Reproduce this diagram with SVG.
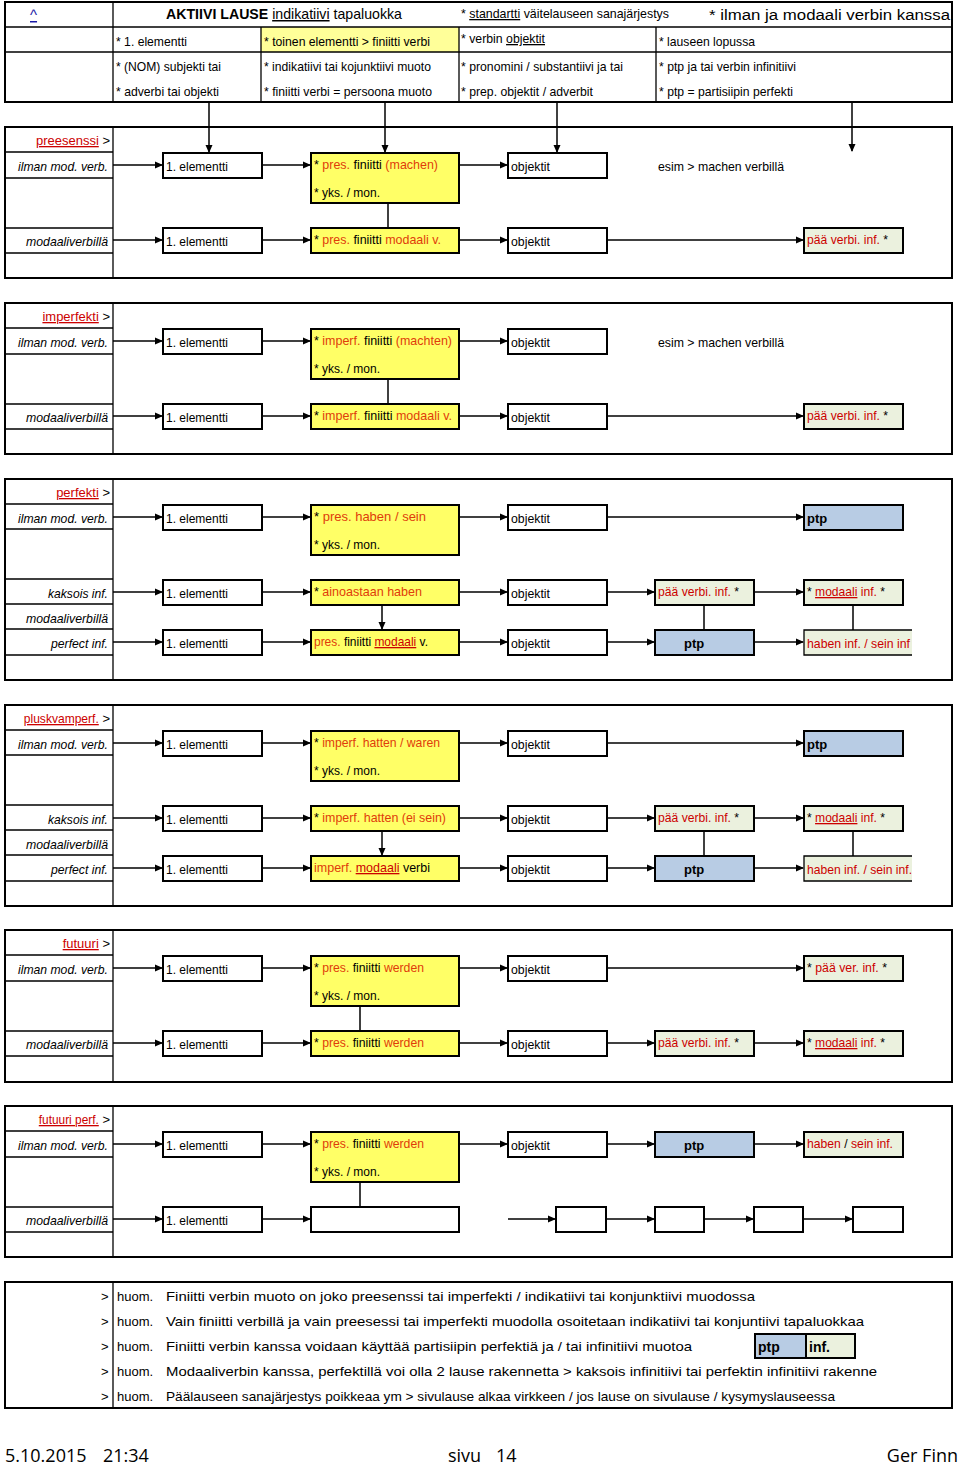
<svg xmlns="http://www.w3.org/2000/svg" width="960" height="1465" viewBox="0 0 960 1465">
<defs>
<marker id="a" markerWidth="8" markerHeight="8" refX="7" refY="4" orient="auto" markerUnits="userSpaceOnUse"><path d="M0,0.5 L8,4 L0,7.5 Z" fill="#000"/></marker>
<style>
text{font-family:"Liberation Sans Narrow","Liberation Sans",Arial,sans-serif;font-size:13px;fill:#000}
.w{font-family:"Liberation Sans",Arial,sans-serif}
.i{font-style:italic}
.e{text-anchor:end}
.r{fill:#cc0000}
.o{fill:#e03c0a}
.u{text-decoration:underline}
.b{fill:#fff;stroke:#000;stroke-width:2}
.y{fill:#ffff66;stroke:#000;stroke-width:2}
.g{fill:#ebf1de;stroke:#000;stroke-width:2}
.bl{fill:#b8cce4;stroke:#000;stroke-width:2}
.f{fill:#fff;stroke:#000;stroke-width:2}
.l{stroke:#000;stroke-width:1.3;fill:none}
.c line{stroke:#000;stroke-width:1.5}
.c .ar{marker-end:url(#a)}
.ft{font-family:"Open Sans","Liberation Sans",sans-serif;font-size:18px}
</style>
</defs>

<g id="header">
<rect class="f" x="5" y="2" width="947" height="100"/>
<rect x="261" y="27" width="198" height="25" fill="#ffff99"/>
<line class="l" x1="5" y1="27" x2="952" y2="27"/>
<line class="l" x1="5" y1="52" x2="952" y2="52"/>
<line class="l" x1="113" y1="2" x2="113" y2="102"/>
<line class="l" x1="261" y1="27" x2="261" y2="102"/>
<line class="l" x1="459" y1="27" x2="459" y2="102"/>
<line class="l" x1="656" y1="27" x2="656" y2="102"/>
<text x="30" y="20" class="w u" style="fill:#1a1aa6;font-size:15px">^</text>
<text x="166" y="19" class="w" style="font-size:15px" textLength="236" lengthAdjust="spacingAndGlyphs"><tspan font-weight="bold">AKTIIVI LAUSE</tspan> <tspan class="u">indikatiivi</tspan> tapaluokka</text>
<text x="461" y="18" textLength="208" lengthAdjust="spacingAndGlyphs">* <tspan class="u">standartti</tspan> väitelauseen  sanajärjestys</text>
<text x="709" y="20" class="w" style="font-size:15.5px" textLength="241" lengthAdjust="spacingAndGlyphs">* ilman ja modaali verbin kanssa</text>
<text x="116" y="46" textLength="71" lengthAdjust="spacingAndGlyphs">* 1. elementti</text>
<text x="264" y="46" textLength="166" lengthAdjust="spacingAndGlyphs">* toinen elementti &gt; finiitti verbi</text>
<text x="461" y="43" textLength="84" lengthAdjust="spacingAndGlyphs">* verbin <tspan class="u">objektit</tspan></text>
<text x="659" y="46" textLength="96" lengthAdjust="spacingAndGlyphs">* lauseen lopussa</text>
<text x="116" y="71" textLength="105" lengthAdjust="spacingAndGlyphs">* (NOM) subjekti tai</text>
<text x="116" y="96" textLength="103" lengthAdjust="spacingAndGlyphs">* adverbi tai objekti</text>
<text x="264" y="71" textLength="167" lengthAdjust="spacingAndGlyphs">* indikatiivi tai kojunktiivi muoto</text>
<text x="264" y="96" textLength="168" lengthAdjust="spacingAndGlyphs">* finiitti verbi = persoona muoto</text>
<text x="461" y="71" textLength="162" lengthAdjust="spacingAndGlyphs">* pronomini / substantiivi ja tai</text>
<text x="461" y="96" textLength="132" lengthAdjust="spacingAndGlyphs">* prep. objektit / adverbit</text>
<text x="659" y="71" textLength="137" lengthAdjust="spacingAndGlyphs">* ptp ja tai verbin infinitiivi</text>
<text x="659" y="96" textLength="134" lengthAdjust="spacingAndGlyphs">* ptp = partisiipin perfekti</text>
</g>

<g id="preesenssi">
<rect class="f" x="5" y="127" width="947" height="151"/>
<line class="l" x1="113" y1="127" x2="113" y2="278"/>
<path class="l" d="M5,152H113M5,178H113M5,228H113M5,253H113"/>
<text x="110" y="145" class="e"><tspan class="r u">preesenssi</tspan> &gt;</text>
<text x="108" y="171" class="e i" textLength="90" lengthAdjust="spacingAndGlyphs">ilman mod. verb.</text>
<text x="108" y="246" class="e i" textLength="82" lengthAdjust="spacingAndGlyphs">modaaliverbillä</text>
<rect class="b" x="163" y="153" width="99" height="25"/><text x="166" y="171" textLength="62" lengthAdjust="spacingAndGlyphs">1. elementti</text>
<rect class="y" x="311" y="153" width="148" height="50"/>
<text x="314" y="169" textLength="124" lengthAdjust="spacingAndGlyphs">* <tspan class="o">pres.</tspan> finiitti  <tspan class="o">(machen)</tspan></text>
<text x="314" y="197" textLength="66" lengthAdjust="spacingAndGlyphs">* yks. / mon.</text>
<rect class="b" x="508" y="153" width="99" height="25"/><text x="511" y="171" textLength="39" lengthAdjust="spacingAndGlyphs">objektit</text>
<text x="658" y="171" textLength="126" lengthAdjust="spacingAndGlyphs">esim &gt; machen verbillä</text>
<rect class="b" x="163" y="228" width="99" height="25"/><text x="166" y="246" textLength="62" lengthAdjust="spacingAndGlyphs">1. elementti</text>
<rect class="y" x="311" y="228" width="148" height="25"/><text x="314" y="244" textLength="127" lengthAdjust="spacingAndGlyphs">* <tspan class="o">pres.</tspan> finiitti  <tspan class="o">modaali v.</tspan></text>
<rect class="b" x="508" y="228" width="99" height="25"/><text x="511" y="246" textLength="39" lengthAdjust="spacingAndGlyphs">objektit</text>
<rect class="g" x="804" y="228" width="99" height="25"/><text x="807" y="244" textLength="81" lengthAdjust="spacingAndGlyphs"><tspan class="r">pää verbi. inf.</tspan> *</text>
</g>

<g id="imperfekti">
<rect class="f" x="5" y="303" width="947" height="151"/>
<line class="l" x1="113" y1="303" x2="113" y2="454"/>
<path class="l" d="M5,328H113M5,354H113M5,404H113M5,429H113"/>
<text x="110" y="321" class="e"><tspan class="r u">imperfekti</tspan> &gt;</text>
<text x="108" y="347" class="e i" textLength="90" lengthAdjust="spacingAndGlyphs">ilman mod. verb.</text>
<text x="108" y="422" class="e i" textLength="82" lengthAdjust="spacingAndGlyphs">modaaliverbillä</text>
<rect class="b" x="163" y="329" width="99" height="25"/><text x="166" y="347" textLength="62" lengthAdjust="spacingAndGlyphs">1. elementti</text>
<rect class="y" x="311" y="329" width="148" height="50"/>
<text x="314" y="345" textLength="138" lengthAdjust="spacingAndGlyphs">* <tspan class="o">imperf.</tspan> finiitti  <tspan class="o">(machten)</tspan></text>
<text x="314" y="373" textLength="66" lengthAdjust="spacingAndGlyphs">* yks. / mon.</text>
<rect class="b" x="508" y="329" width="99" height="25"/><text x="511" y="347" textLength="39" lengthAdjust="spacingAndGlyphs">objektit</text>
<text x="658" y="347" textLength="126" lengthAdjust="spacingAndGlyphs">esim &gt; machen verbillä</text>
<rect class="b" x="163" y="404" width="99" height="25"/><text x="166" y="422" textLength="62" lengthAdjust="spacingAndGlyphs">1. elementti</text>
<rect class="y" x="311" y="404" width="148" height="25"/><text x="314" y="420" textLength="138" lengthAdjust="spacingAndGlyphs">* <tspan class="o">imperf.</tspan> finiitti  <tspan class="o">modaali v.</tspan></text>
<rect class="b" x="508" y="404" width="99" height="25"/><text x="511" y="422" textLength="39" lengthAdjust="spacingAndGlyphs">objektit</text>
<rect class="g" x="804" y="404" width="99" height="25"/><text x="807" y="420" textLength="81" lengthAdjust="spacingAndGlyphs"><tspan class="r">pää verbi. inf.</tspan> *</text>
</g>

<g id="perfekti">
<rect class="f" x="5" y="479" width="947" height="201"/>
<line class="l" x1="113" y1="479" x2="113" y2="680"/>
<path class="l" d="M5,504H113M5,529H113M5,579H113M5,604H113M5,629H113M5,655H113"/>
<text x="110" y="497" class="e"><tspan class="r u">perfekti</tspan> &gt;</text>
<text x="108" y="523" class="e i" textLength="90" lengthAdjust="spacingAndGlyphs">ilman mod. verb.</text>
<text x="108" y="598" class="e i" textLength="60" lengthAdjust="spacingAndGlyphs">kaksois inf.</text>
<text x="108" y="623" class="e i" textLength="82" lengthAdjust="spacingAndGlyphs">modaaliverbillä</text>
<text x="108" y="648" class="e i" textLength="57" lengthAdjust="spacingAndGlyphs">perfect inf.</text>
<rect class="b" x="163" y="505" width="99" height="25"/><text x="166" y="523" textLength="62" lengthAdjust="spacingAndGlyphs">1. elementti</text>
<rect class="y" x="311" y="505" width="148" height="50"/>
<text x="314" y="521" textLength="112" lengthAdjust="spacingAndGlyphs">* <tspan class="o">pres.   haben / sein</tspan></text>
<text x="314" y="549" textLength="66" lengthAdjust="spacingAndGlyphs">* yks. / mon.</text>
<rect class="b" x="508" y="505" width="99" height="25"/><text x="511" y="523" textLength="39" lengthAdjust="spacingAndGlyphs">objektit</text>
<rect class="bl" x="804" y="505" width="99" height="25"/><text x="807" y="523" font-weight="bold">ptp</text>
<rect class="b" x="163" y="580" width="99" height="25"/><text x="166" y="598" textLength="62" lengthAdjust="spacingAndGlyphs">1. elementti</text>
<rect class="y" x="311" y="580" width="148" height="25"/><text x="314" y="596" textLength="108" lengthAdjust="spacingAndGlyphs">*  <tspan class="o">ainoastaan haben</tspan></text>
<rect class="b" x="508" y="580" width="99" height="25"/><text x="511" y="598" textLength="39" lengthAdjust="spacingAndGlyphs">objektit</text>
<rect class="g" x="655" y="580" width="99" height="25"/><text x="658" y="596" textLength="81" lengthAdjust="spacingAndGlyphs"><tspan class="r">pää verbi. inf.</tspan> *</text>
<rect class="g" x="804" y="580" width="99" height="25"/><text x="807" y="596" textLength="78" lengthAdjust="spacingAndGlyphs">* <tspan class="r u">modaali</tspan><tspan class="r"> inf.</tspan> *</text>
<rect class="b" x="163" y="630" width="99" height="25"/><text x="166" y="648" textLength="62" lengthAdjust="spacingAndGlyphs">1. elementti</text>
<rect class="y" x="311" y="630" width="148" height="25"/><text x="314" y="646" textLength="114" lengthAdjust="spacingAndGlyphs"><tspan class="o">pres.</tspan> finiitti <tspan class="r u">modaali</tspan> v.</text>
<rect class="b" x="508" y="630" width="99" height="25"/><text x="511" y="648" textLength="39" lengthAdjust="spacingAndGlyphs">objektit</text>
<rect class="bl" x="655" y="630" width="99" height="25"/><text x="684" y="648" font-weight="bold">ptp</text>
<rect x="804" y="630" width="108" height="25" fill="#ebf1de"/><path class="l" d="M912,630H804V655H912" stroke-width="2"/><text x="807" y="648" class="r" textLength="103" lengthAdjust="spacingAndGlyphs">haben inf. / sein inf</text>
</g>

<g id="pluskvamperfekti">
<rect class="f" x="5" y="705" width="947" height="201"/>
<line class="l" x1="113" y1="705" x2="113" y2="906"/>
<path class="l" d="M5,730H113M5,755H113M5,805H113M5,830H113M5,855H113M5,881H113"/>
<text x="110" y="723" class="e"><tspan class="r u" textLength="75" lengthAdjust="spacingAndGlyphs">pluskvamperf.</tspan> &gt;</text>
<text x="108" y="749" class="e i" textLength="90" lengthAdjust="spacingAndGlyphs">ilman mod. verb.</text>
<text x="108" y="824" class="e i" textLength="60" lengthAdjust="spacingAndGlyphs">kaksois inf.</text>
<text x="108" y="849" class="e i" textLength="82" lengthAdjust="spacingAndGlyphs">modaaliverbillä</text>
<text x="108" y="874" class="e i" textLength="57" lengthAdjust="spacingAndGlyphs">perfect inf.</text>
<rect class="b" x="163" y="731" width="99" height="25"/><text x="166" y="749" textLength="62" lengthAdjust="spacingAndGlyphs">1. elementti</text>
<rect class="y" x="311" y="731" width="148" height="50"/>
<text x="314" y="747" textLength="126" lengthAdjust="spacingAndGlyphs">* <tspan class="o">imperf. hatten / waren</tspan></text>
<text x="314" y="775" textLength="66" lengthAdjust="spacingAndGlyphs">* yks. / mon.</text>
<rect class="b" x="508" y="731" width="99" height="25"/><text x="511" y="749" textLength="39" lengthAdjust="spacingAndGlyphs">objektit</text>
<rect class="bl" x="804" y="731" width="99" height="25"/><text x="807" y="749" font-weight="bold">ptp</text>
<rect class="b" x="163" y="806" width="99" height="25"/><text x="166" y="824" textLength="62" lengthAdjust="spacingAndGlyphs">1. elementti</text>
<rect class="y" x="311" y="806" width="148" height="25"/><text x="314" y="822" textLength="132" lengthAdjust="spacingAndGlyphs">* <tspan class="o">imperf. hatten  (ei sein)</tspan></text>
<rect class="b" x="508" y="806" width="99" height="25"/><text x="511" y="824" textLength="39" lengthAdjust="spacingAndGlyphs">objektit</text>
<rect class="g" x="655" y="806" width="99" height="25"/><text x="658" y="822" textLength="81" lengthAdjust="spacingAndGlyphs"><tspan class="r">pää verbi. inf.</tspan> *</text>
<rect class="g" x="804" y="806" width="99" height="25"/><text x="807" y="822" textLength="78" lengthAdjust="spacingAndGlyphs">* <tspan class="r u">modaali</tspan><tspan class="r"> inf.</tspan> *</text>
<rect class="b" x="163" y="856" width="99" height="25"/><text x="166" y="874" textLength="62" lengthAdjust="spacingAndGlyphs">1. elementti</text>
<rect class="y" x="311" y="856" width="148" height="25"/><text x="314" y="872" textLength="116" lengthAdjust="spacingAndGlyphs"><tspan class="o">imperf.</tspan>  <tspan class="r u">modaali</tspan> verbi</text>
<rect class="b" x="508" y="856" width="99" height="25"/><text x="511" y="874" textLength="39" lengthAdjust="spacingAndGlyphs">objektit</text>
<rect class="bl" x="655" y="856" width="99" height="25"/><text x="684" y="874" font-weight="bold">ptp</text>
<rect x="804" y="856" width="108" height="25" fill="#ebf1de"/><path class="l" d="M912,856H804V881H912" stroke-width="2"/><text x="807" y="874" class="r" textLength="105" lengthAdjust="spacingAndGlyphs">haben inf. / sein inf.</text>
</g>

<g id="futuuri">
<rect class="f" x="5" y="930" width="947" height="152"/>
<line class="l" x1="113" y1="930" x2="113" y2="1082"/>
<path class="l" d="M5,955H113M5,981H113M5,1031H113M5,1056H113"/>
<text x="110" y="948" class="e"><tspan class="r u">futuuri</tspan> &gt;</text>
<text x="108" y="974" class="e i" textLength="90" lengthAdjust="spacingAndGlyphs">ilman mod. verb.</text>
<text x="108" y="1049" class="e i" textLength="82" lengthAdjust="spacingAndGlyphs">modaaliverbillä</text>
<rect class="b" x="163" y="956" width="99" height="25"/><text x="166" y="974" textLength="62" lengthAdjust="spacingAndGlyphs">1. elementti</text>
<rect class="y" x="311" y="956" width="148" height="50"/>
<text x="314" y="972" textLength="110" lengthAdjust="spacingAndGlyphs">* <tspan class="o">pres.</tspan> finiitti <tspan class="o">werden</tspan></text>
<text x="314" y="1000" textLength="66" lengthAdjust="spacingAndGlyphs">* yks. / mon.</text>
<rect class="b" x="508" y="956" width="99" height="25"/><text x="511" y="974" textLength="39" lengthAdjust="spacingAndGlyphs">objektit</text>
<rect class="g" x="804" y="956" width="99" height="25"/><text x="807" y="972" textLength="80" lengthAdjust="spacingAndGlyphs">* <tspan class="r">pää ver. inf.</tspan> *</text>
<rect class="b" x="163" y="1031" width="99" height="25"/><text x="166" y="1049" textLength="62" lengthAdjust="spacingAndGlyphs">1. elementti</text>
<rect class="y" x="311" y="1031" width="148" height="25"/><text x="314" y="1047" textLength="110" lengthAdjust="spacingAndGlyphs">* <tspan class="o">pres.</tspan> finiitti <tspan class="o">werden</tspan></text>
<rect class="b" x="508" y="1031" width="99" height="25"/><text x="511" y="1049" textLength="39" lengthAdjust="spacingAndGlyphs">objektit</text>
<rect class="g" x="655" y="1031" width="99" height="25"/><text x="658" y="1047" textLength="81" lengthAdjust="spacingAndGlyphs"><tspan class="r">pää verbi. inf.</tspan> *</text>
<rect class="g" x="804" y="1031" width="99" height="25"/><text x="807" y="1047" textLength="78" lengthAdjust="spacingAndGlyphs">* <tspan class="r u">modaali</tspan><tspan class="r"> inf.</tspan> *</text>
</g>

<g id="futuuriperf">
<rect class="f" x="5" y="1106" width="947" height="151"/>
<line class="l" x1="113" y1="1106" x2="113" y2="1257"/>
<path class="l" d="M5,1131H113M5,1157H113M5,1207H113M5,1232H113"/>
<text x="110" y="1124" class="e"><tspan class="r u" textLength="60" lengthAdjust="spacingAndGlyphs">futuuri perf.</tspan> &gt;</text>
<text x="108" y="1150" class="e i" textLength="90" lengthAdjust="spacingAndGlyphs">ilman mod. verb.</text>
<text x="108" y="1225" class="e i" textLength="82" lengthAdjust="spacingAndGlyphs">modaaliverbillä</text>
<rect class="b" x="163" y="1132" width="99" height="25"/><text x="166" y="1150" textLength="62" lengthAdjust="spacingAndGlyphs">1. elementti</text>
<rect class="y" x="311" y="1132" width="148" height="50"/>
<text x="314" y="1148" textLength="110" lengthAdjust="spacingAndGlyphs">* <tspan class="o">pres.</tspan> finiitti <tspan class="o">werden</tspan></text>
<text x="314" y="1176" textLength="66" lengthAdjust="spacingAndGlyphs">* yks. / mon.</text>
<rect class="b" x="508" y="1132" width="99" height="25"/><text x="511" y="1150" textLength="39" lengthAdjust="spacingAndGlyphs">objektit</text>
<rect class="bl" x="655" y="1132" width="99" height="25"/><text x="684" y="1150" font-weight="bold">ptp</text>
<rect class="g" x="804" y="1132" width="99" height="25"/><text x="807" y="1148" textLength="86" lengthAdjust="spacingAndGlyphs"><tspan class="r">haben</tspan> / <tspan class="r">sein inf.</tspan></text>
<rect class="b" x="163" y="1207" width="99" height="25"/><text x="166" y="1225" textLength="62" lengthAdjust="spacingAndGlyphs">1. elementti</text>
<rect class="b" x="311" y="1207" width="148" height="25"/>
<rect class="b" x="556" y="1207" width="50" height="25"/>
<rect class="b" x="655" y="1207" width="49" height="25"/>
<rect class="b" x="754" y="1207" width="49" height="25"/>
<rect class="b" x="853" y="1207" width="50" height="25"/>
</g>

<g id="notes">
<rect class="f" x="5" y="1282" width="947" height="126"/>
<line class="l" x1="113" y1="1282" x2="113" y2="1408"/>
<text x="101" y="1301">&gt;</text><text x="117" y="1301">huom.</text><text x="166" y="1301" textLength="589" lengthAdjust="spacingAndGlyphs">Finiitti verbin muoto on joko preesenssi tai imperfekti / indikatiivi tai konjunktiivi muodossa</text>
<text x="101" y="1326">&gt;</text><text x="117" y="1326">huom.</text><text x="166" y="1326" textLength="698" lengthAdjust="spacingAndGlyphs">Vain finiitti verbillä ja vain preesessi tai imperfekti muodolla osoitetaan indikatiivi tai konjuntiivi tapaluokkaa</text>
<text x="101" y="1351">&gt;</text><text x="117" y="1351">huom.</text><text x="166" y="1351" textLength="526" lengthAdjust="spacingAndGlyphs">Finiitti verbin kanssa voidaan käyttää partisiipin perfektiä ja / tai infinitiivi muotoa</text>
<text x="101" y="1376">&gt;</text><text x="117" y="1376">huom.</text><text x="166" y="1376" textLength="711" lengthAdjust="spacingAndGlyphs">Modaaliverbin kanssa, perfektillä voi olla 2 lause rakennetta &gt; kaksois infinitiivi tai perfektin infinitiivi rakenne</text>
<text x="101" y="1401">&gt;</text><text x="117" y="1401">huom.</text><text x="166" y="1401" textLength="669" lengthAdjust="spacingAndGlyphs">Päälauseen sanajärjestys poikkeaa ym &gt; sivulause alkaa virkkeen / jos lause on sivulause / kysymyslauseessa</text>
<rect class="bl" x="755" y="1334" width="51" height="24"/><text x="758" y="1352" font-weight="bold" style="font-size:14px">ptp</text>
<rect class="g" x="806" y="1334" width="49" height="24"/><text x="809" y="1352" font-weight="bold" style="font-size:14px">inf.</text>
</g>

<g id="footer">
<text x="5" y="1462" class="ft">5.10.2015</text><text x="103" y="1462" class="ft">21:34</text>
<text x="448" y="1462" class="ft">sivu</text><text x="496" y="1462" class="ft">14</text>
<text x="958" y="1462" class="ft" text-anchor="end">Ger Finn</text>
</g>

<g id="connectors" class="c">
<line class="ar" x1="209" y1="102" x2="209" y2="152"/>
<line class="ar" x1="385" y1="102" x2="385" y2="152"/>
<line class="ar" x1="557" y1="102" x2="557" y2="152"/>
<line class="ar" x1="852" y1="102" x2="852" y2="151"/>
<line class="ar" x1="113" y1="165" x2="162" y2="165"/><line class="ar" x1="262" y1="165" x2="310" y2="165"/><line class="ar" x1="459" y1="165" x2="507" y2="165"/>
<line x1="388" y1="203" x2="388" y2="228"/>
<line class="ar" x1="113" y1="240" x2="162" y2="240"/><line class="ar" x1="262" y1="240" x2="310" y2="240"/><line class="ar" x1="459" y1="240" x2="507" y2="240"/><line class="ar" x1="607" y1="240" x2="803" y2="240"/>
<line class="ar" x1="113" y1="341" x2="162" y2="341"/><line class="ar" x1="262" y1="341" x2="310" y2="341"/><line class="ar" x1="459" y1="341" x2="507" y2="341"/>
<line x1="388" y1="379" x2="388" y2="404"/>
<line class="ar" x1="113" y1="416" x2="162" y2="416"/><line class="ar" x1="262" y1="416" x2="310" y2="416"/><line class="ar" x1="459" y1="416" x2="507" y2="416"/><line class="ar" x1="607" y1="416" x2="803" y2="416"/>
<line class="ar" x1="113" y1="517" x2="162" y2="517"/><line class="ar" x1="262" y1="517" x2="310" y2="517"/><line class="ar" x1="459" y1="517" x2="507" y2="517"/><line class="ar" x1="607" y1="517" x2="803" y2="517"/>
<line class="ar" x1="113" y1="592" x2="162" y2="592"/><line class="ar" x1="262" y1="592" x2="310" y2="592"/><line class="ar" x1="459" y1="592" x2="507" y2="592"/><line class="ar" x1="607" y1="592" x2="654" y2="592"/><line class="ar" x1="754" y1="592" x2="803" y2="592"/>
<line class="ar" x1="382" y1="605" x2="382" y2="629"/>
<line x1="704" y1="605" x2="704" y2="630"/><line x1="853" y1="605" x2="853" y2="630"/>
<line class="ar" x1="113" y1="642" x2="162" y2="642"/><line class="ar" x1="262" y1="642" x2="310" y2="642"/><line class="ar" x1="459" y1="642" x2="507" y2="642"/><line class="ar" x1="607" y1="642" x2="654" y2="642"/><line class="ar" x1="754" y1="642" x2="803" y2="642"/>
<line class="ar" x1="113" y1="743" x2="162" y2="743"/><line class="ar" x1="262" y1="743" x2="310" y2="743"/><line class="ar" x1="459" y1="743" x2="507" y2="743"/><line class="ar" x1="607" y1="743" x2="803" y2="743"/>
<line class="ar" x1="113" y1="818" x2="162" y2="818"/><line class="ar" x1="262" y1="818" x2="310" y2="818"/><line class="ar" x1="459" y1="818" x2="507" y2="818"/><line class="ar" x1="607" y1="818" x2="654" y2="818"/><line class="ar" x1="754" y1="818" x2="803" y2="818"/>
<line class="ar" x1="382" y1="831" x2="382" y2="855"/>
<line x1="704" y1="831" x2="704" y2="856"/><line x1="853" y1="831" x2="853" y2="856"/>
<line class="ar" x1="113" y1="868" x2="162" y2="868"/><line class="ar" x1="262" y1="868" x2="310" y2="868"/><line class="ar" x1="459" y1="868" x2="507" y2="868"/><line class="ar" x1="607" y1="868" x2="654" y2="868"/><line class="ar" x1="754" y1="868" x2="803" y2="868"/>
<line class="ar" x1="113" y1="968" x2="162" y2="968"/><line class="ar" x1="262" y1="968" x2="310" y2="968"/><line class="ar" x1="459" y1="968" x2="507" y2="968"/><line class="ar" x1="607" y1="968" x2="803" y2="968"/>
<line x1="360" y1="1006" x2="360" y2="1031"/>
<line class="ar" x1="113" y1="1043" x2="162" y2="1043"/><line class="ar" x1="262" y1="1043" x2="310" y2="1043"/><line class="ar" x1="459" y1="1043" x2="507" y2="1043"/><line class="ar" x1="607" y1="1043" x2="654" y2="1043"/><line class="ar" x1="754" y1="1043" x2="803" y2="1043"/>
<line class="ar" x1="113" y1="1144" x2="162" y2="1144"/><line class="ar" x1="262" y1="1144" x2="310" y2="1144"/><line class="ar" x1="459" y1="1144" x2="507" y2="1144"/><line class="ar" x1="607" y1="1144" x2="654" y2="1144"/><line class="ar" x1="754" y1="1144" x2="803" y2="1144"/>
<line x1="360" y1="1182" x2="360" y2="1207"/>
<line class="ar" x1="113" y1="1219" x2="162" y2="1219"/><line class="ar" x1="262" y1="1219" x2="310" y2="1219"/><line class="ar" x1="508" y1="1219" x2="555" y2="1219"/><line class="ar" x1="606" y1="1219" x2="654" y2="1219"/><line class="ar" x1="704" y1="1219" x2="753" y2="1219"/><line class="ar" x1="803" y1="1219" x2="852" y2="1219"/>
</g>
</svg>
